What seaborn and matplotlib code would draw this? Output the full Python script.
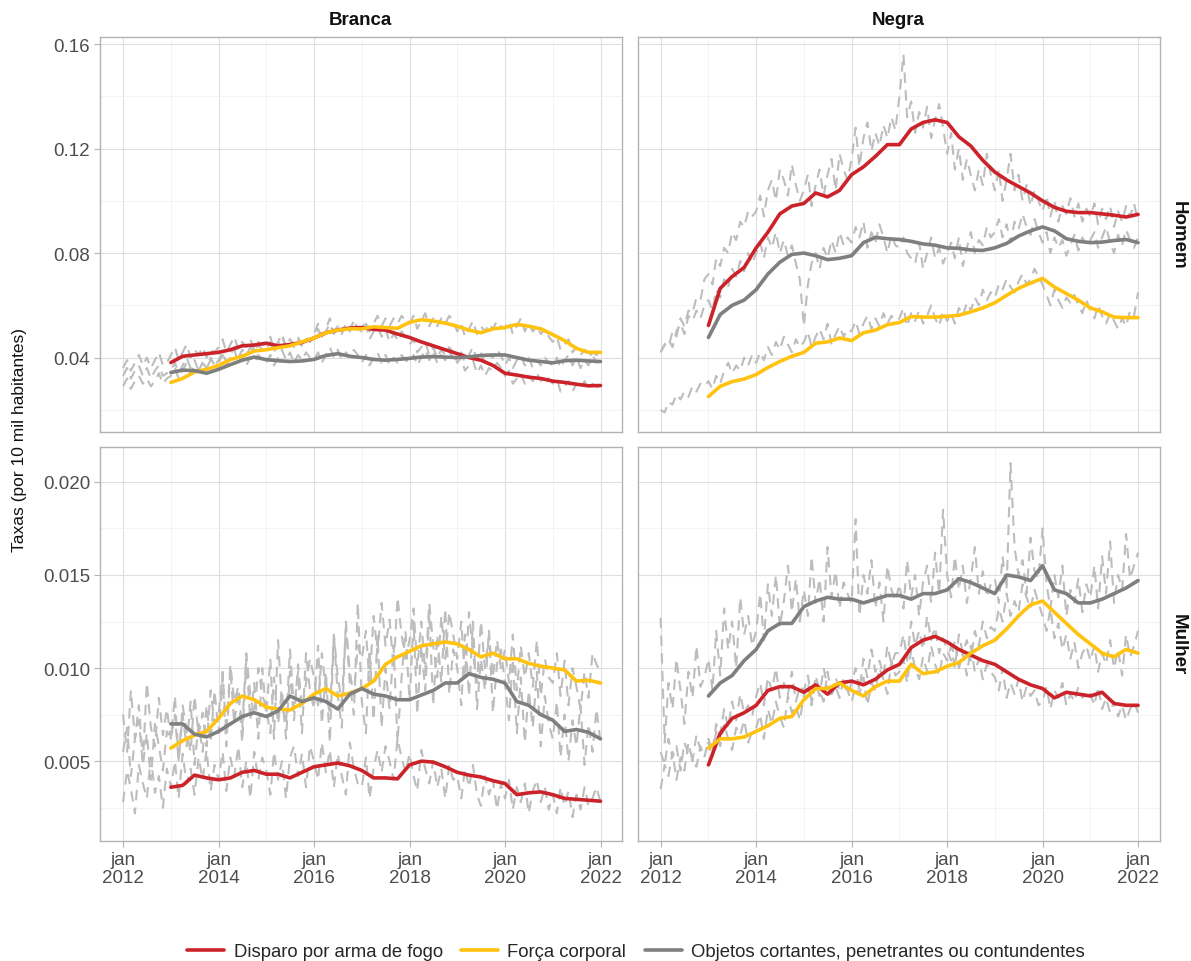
import pandas as pd
import numpy as np

import seaborn as sns
import matplotlib.pyplot as plt

# monthly raw series, Jan 2012 .. Jan 2022 (121 points)
months = pd.date_range('2012-01-01', '2022-01-01', freq='MS')
# 12-month moving average, read quarterly, Jan 2013 .. Jan 2022
quarters = pd.date_range('2013-01-01', '2022-01-01', freq='QS')

series_names = ['Disparo por arma de fogo', 'Força corporal',
                'Objetos cortantes, penetrantes ou contundentes']
series_colors = ['#CC2229', '#FFC20E', '#7F7F7F']
col_labels = ['Branca', 'Negra']
row_labels = ['Homem', 'Mulher']
row_scale = [1e-3, 1e-4]  # Homem values in 1/1000, Mulher values in 1/10000

# ---- Branca / Homem (x 1e-3)
raw_bh_fogo = [36, 39, 35, 38, 41, 37, 40, 36, 39, 42, 37, 38,
               41, 44, 39, 42, 45, 40, 43, 41, 44, 40, 43, 42,
               44, 47, 42, 45, 48, 43, 46, 44, 47, 43, 46, 45,
               45, 48, 43, 46, 49, 44, 47, 45, 48, 44, 47, 46,
               49, 53, 48, 51, 55, 50, 52, 49, 53, 50, 54, 51,
               50, 53, 47, 50, 52, 48, 51, 46, 49, 47, 50, 48,
               45, 47, 42, 44, 46, 41, 44, 40, 43, 41, 44, 42,
               38, 40, 35, 37, 39, 34, 37, 33, 36, 35, 38, 36,
               33, 35, 30, 32, 34, 30, 33, 31, 34, 31, 33, 32,
               30, 32, 27, 29, 31, 27, 30, 28, 31, 28, 30, 29,
               28]
raw_bh_corporal = [29, 32, 28, 31, 33, 30, 32, 29, 31, 34, 30, 32,
                   33, 36, 32, 35, 38, 34, 37, 35, 38, 36, 39, 37,
                   39, 42, 38, 41, 44, 40, 43, 41, 44, 42, 45, 43,
                   43, 46, 42, 45, 48, 44, 47, 44, 47, 45, 48, 46,
                   48, 51, 47, 50, 53, 49, 52, 50, 53, 51, 54, 52,
                   51, 54, 50, 53, 56, 52, 55, 52, 55, 53, 56, 54,
                   53, 56, 51, 54, 57, 52, 55, 52, 55, 53, 56, 54,
                   50, 53, 48, 51, 54, 49, 52, 50, 53, 51, 54, 52,
                   51, 54, 49, 52, 55, 50, 53, 50, 52, 49, 51, 48,
                   46, 48, 43, 45, 47, 42, 44, 41, 43, 40, 42, 41,
                   41]
raw_bh_objetos = [33, 36, 32, 35, 37, 33, 36, 32, 35, 37, 33, 34,
                  35, 38, 34, 37, 40, 36, 39, 35, 38, 36, 40, 37,
                  38, 41, 37, 40, 43, 38, 41, 37, 40, 38, 41, 39,
                  38, 41, 37, 40, 43, 39, 42, 38, 41, 39, 42, 40,
                  39, 42, 38, 41, 44, 40, 43, 39, 42, 40, 43, 41,
                  38, 41, 37, 40, 42, 38, 41, 37, 40, 38, 41, 39,
                  38, 41, 37, 40, 43, 39, 42, 38, 41, 39, 42, 40,
                  39, 42, 38, 41, 44, 39, 42, 38, 41, 40, 43, 41,
                  37, 40, 36, 39, 41, 37, 40, 36, 39, 37, 40, 38,
                  37, 40, 36, 39, 41, 37, 40, 36, 39, 37, 41, 38,
                  39]
mm_bh_fogo = [38.1, 40.5, 41, 41.5, 42, 43, 44.5, 44.8, 45.5, 44.5, 45, 45.8,
              47.5, 49.5, 50.5, 51.3, 51.5, 50.8, 50.5, 49, 47.7, 46, 44.5, 43,
              41.5, 40, 39, 37, 34, 33.3, 32.5, 32, 31, 30.5, 29.8, 29.2, 29.3]
mm_bh_corporal = [30.5, 32, 34.5, 35.5, 37, 39.2, 40.5, 42.5, 43, 43.8, 44.5, 46,
                  47.5, 49.5, 50.5, 51, 51, 51.8, 51.5, 51.2, 53.5, 54.5, 54, 53.2,
                  52, 50.5, 49.5, 51, 51.5, 52.7, 52, 51, 48.8, 46.5, 43.5, 42, 42]
mm_bh_objetos = [34.3, 35.2, 35, 34, 35.5, 37.3, 39, 40.2, 39.2, 38.8, 38.5, 38.7,
                 39.3, 40.8, 41.5, 40.5, 40, 39.3, 39, 39.3, 39.7, 40.2, 40.4, 40.2,
                 40, 40.3, 40.8, 41, 41, 40, 39, 38.5, 38, 38.8, 39, 38.7, 38.5]

# ---- Negra / Homem (x 1e-3)
raw_nh_fogo = [42, 45, 44, 50, 48, 55, 52, 58, 57, 63, 62, 70,
               72, 68, 78, 75, 82, 80, 88, 85, 92, 90, 96, 94,
               96, 102, 94, 104, 108, 100, 112, 108, 102, 114, 106, 100,
               104, 110, 98, 106, 112, 102, 110, 116, 104, 118, 112, 108,
               116, 128, 113, 124, 130, 119, 126, 121, 129, 124, 132, 127,
               140, 156, 132, 138, 126, 134, 128, 136, 124, 131, 137, 128,
               118, 126, 112, 120, 108, 116, 110, 104, 112, 106, 118, 110,
               104, 112, 100, 108, 118, 104, 110, 100, 106, 98, 104, 100,
               96, 102, 94, 100, 92, 98, 95, 101, 94, 99, 92, 97,
               94, 99, 91, 97, 93, 98, 90, 96, 92, 98, 94, 99,
               92]
raw_nh_corporal = [20, 19, 23, 22, 26, 24, 27, 25, 29, 27, 30, 29,
                   31, 28, 33, 30, 35, 38, 34, 37, 35, 40, 37, 41,
                   38, 42, 39, 44, 41, 46, 43, 48, 45, 42, 47, 44,
                   46, 50, 44, 48, 51, 47, 53, 45, 49, 52, 48, 51,
                   50, 54, 49, 53, 56, 51, 55, 52, 57, 53, 56, 54,
                   55, 59, 52, 57, 54, 58, 53, 56, 60, 55, 52, 58,
                   54, 57, 53, 59, 56, 61, 58, 63, 60, 66, 62, 65,
                   63, 68, 66, 70, 67, 65, 69, 72, 68, 70, 74, 71,
                   68, 64, 60, 66, 62, 59, 63, 61, 64, 60, 57, 62,
                   58, 55, 60, 56, 53, 57, 54, 51, 55, 52, 58, 56,
                   65]
raw_nh_objetos = [42, 45, 47, 44, 50, 53, 49, 56, 54, 58, 55, 60,
                  62, 58, 66, 63, 70, 67, 74, 71, 77, 73, 80, 76,
                  80, 84, 78, 86, 82, 88, 80, 85, 79, 83, 76, 70,
                  52, 68, 76, 80, 74, 82, 78, 85, 80, 88, 83, 86,
                  84, 90, 86, 92, 82, 88, 84, 91, 86, 80, 87, 83,
                  82, 86, 80, 78, 76, 84, 74, 80, 86, 78, 82, 76,
                  80, 84, 78, 86, 75, 82, 88, 80, 85, 83, 90, 86,
                  88, 93, 86, 91, 84, 92, 89, 95, 90, 87, 93, 88,
                  84, 88, 80, 86, 82, 85, 79, 83, 87, 81, 86, 83,
                  85, 88, 82, 86, 90, 84, 80, 87, 83, 89, 85, 82,
                  86]
mm_nh_fogo = [52.3, 66.5, 71, 74.5, 82, 88, 95, 98, 99, 103, 101.5, 104,
              110, 113, 117, 121.5, 121.5, 127.5, 130, 131, 130, 124.5, 121, 115.5,
              111, 108, 105.5, 103, 100, 97.5, 96, 95.5, 95.5, 95, 94.5, 93.8, 94.8]
mm_nh_corporal = [25.1, 29, 30.8, 31.8, 33.5, 36.2, 38.5, 40.5, 42, 45.5, 46, 47.5,
                  46.5, 49.5, 50.5, 52.6, 53.4, 55.7, 55.5, 55.5, 55.8, 56.2, 57.5, 59,
                  61, 63.8, 66.5, 68.5, 70.3, 67, 64.5, 62, 59, 57.5, 55.5, 55.3, 55.3]
mm_nh_objetos = [47.7, 56.5, 60, 62, 66, 72, 76.5, 79.5, 80, 79, 77.5, 78,
                 79, 84, 86, 85.5, 85.2, 84.5, 83.5, 83, 82, 81.8, 81.2, 81,
                 82, 83.7, 86.5, 88.5, 90, 88.5, 85.5, 84.5, 84, 84.2, 84.8, 85.2, 84]

# ---- Branca / Mulher (x 1e-4)
raw_bm_fogo = [28, 45, 35, 22, 48, 38, 30, 52, 33, 42, 25, 46,
               36, 50, 30, 54, 38, 46, 32, 52, 40, 56, 34, 48,
               40, 55, 34, 52, 42, 58, 36, 50, 30, 55, 40, 52,
               45, 32, 55, 40, 50, 30, 52, 58, 42, 54, 36, 58,
               50, 40, 60, 44, 56, 36, 54, 42, 32, 60, 46, 38,
               36, 52, 30, 46, 56, 44, 58, 50, 40, 62, 52, 44,
               54, 42, 34, 56, 46, 38, 50, 36, 46, 30, 48, 40,
               42, 30, 46, 36, 48, 32, 26, 42, 32, 40, 24, 38,
               30, 40, 24, 36, 28, 38, 22, 34, 40, 28, 36, 24,
               32, 22, 36, 26, 34, 20, 32, 24, 36, 26, 30, 36,
               28]
raw_bm_corporal = [55, 68, 42, 62, 72, 48, 65, 40, 70, 58, 45, 66,
                   62, 75, 50, 80, 66, 55, 85, 64, 76, 58, 88, 70,
                   75, 98, 65, 102, 82, 90, 68, 108, 85, 75, 100, 86,
                   78, 65, 95, 70, 88, 62, 98, 72, 102, 78, 92, 105,
                   95, 80, 108, 88, 75, 118, 95, 82, 122, 98, 85, 112,
                   105, 120, 92, 128, 108, 135, 112, 126, 100, 138, 118, 105,
                   115, 132, 100, 125, 98, 135, 112, 95, 128, 105, 130, 118,
                   105, 125, 95, 130, 108, 92, 125, 100, 118, 95, 115, 100,
                   110, 92, 118, 88, 112, 95, 108, 90, 115, 85, 105, 95,
                   92, 108, 85, 104, 80, 100, 90, 78, 98, 84, 108, 102,
                   98]
raw_bm_objetos = [75, 55, 88, 62, 80, 50, 92, 68, 58, 84, 64, 78,
                  62, 85, 50, 75, 58, 82, 48, 70, 55, 80, 60, 88,
                  65, 95, 58, 100, 70, 88, 60, 105, 72, 92, 62, 100,
                  75, 105, 62, 115, 80, 70, 110, 78, 98, 65, 108, 88,
                  78, 112, 70, 98, 60, 118, 85, 68, 125, 92, 75, 135,
                  82, 65, 110, 72, 118, 68, 100, 78, 112, 60, 95, 120,
                  82, 125, 75, 112, 88, 130, 80, 118, 92, 132, 86, 110,
                  100, 80, 118, 85, 125, 78, 105, 88, 120, 76, 102, 110,
                  92, 72, 105, 65, 95, 60, 88, 68, 98, 58, 85, 70,
                  62, 82, 52, 75, 50, 72, 58, 80, 48, 70, 55, 78,
                  60]
mm_bm_fogo = [36, 37, 42.5, 41, 40, 41, 44, 45, 43, 43, 41, 44,
              47, 48, 49, 47.5, 45, 41, 41, 40.5, 48, 50, 49.5, 47,
              44, 42.5, 41.5, 39.5, 38, 32, 33, 33.5, 32, 30, 29.5, 29, 28.5]
mm_bm_corporal = [57, 61, 64, 66, 73, 81, 85, 83, 79, 78, 77.5, 81,
                  86, 89, 85, 86.5, 89, 93, 102, 106, 109, 112, 113, 114,
                  113, 110, 106, 108, 105, 105, 102.5, 101, 100, 99, 93, 93.5, 92]
mm_bm_objetos = [70, 70, 64.5, 63, 66, 70, 74, 76, 74, 77, 85, 82,
                 84, 82, 78, 86, 89, 86, 85, 83, 83, 85.5, 88, 92,
                 92, 97, 95, 94, 92, 82, 80, 75, 72, 66, 67, 65.5, 62]

# ---- Negra / Mulher (x 1e-4)
raw_nm_fogo = [35, 48, 42, 55, 40, 52, 45, 60, 50, 47, 58, 52,
               62, 55, 70, 64, 78, 68, 82, 72, 86, 76, 80, 74,
               85, 92, 80, 95, 88, 100, 84, 92, 86, 98, 82, 90,
               88, 96, 82, 92, 85, 100, 90, 84, 95, 88, 92, 86,
               92, 100, 88, 105, 95, 110, 98, 104, 96, 112, 102, 108,
               108, 118, 104, 125, 112, 120, 110, 128, 115, 122, 108, 116,
               110, 104, 115, 100, 108, 96, 112, 98, 105, 94, 102, 98,
               95, 88, 100, 84, 92, 86, 94, 82, 90, 85, 88, 80,
               82, 90, 78, 88, 84, 92, 80, 86, 82, 90, 84, 88,
               86, 80, 90, 78, 84, 76, 82, 74, 80, 72, 78, 82,
               76]
raw_nm_corporal = [55, 48, 62, 52, 58, 45, 60, 54, 50, 64, 56, 58,
                   60, 52, 66, 58, 70, 62, 56, 68, 64, 72, 60, 66,
                   68, 75, 62, 78, 70, 82, 74, 68, 85, 76, 80, 72,
                   85, 92, 80, 96, 88, 82, 98, 86, 90, 84, 94, 88,
                   82, 90, 86, 95, 80, 92, 88, 100, 94, 86, 104, 96,
                   98, 105, 92, 110, 100, 94, 106, 98, 112, 102, 96, 108,
                   104, 112, 100, 118, 108, 115, 104, 120, 112, 125, 116, 122,
                   120, 132, 125, 140, 128, 136, 130, 145, 138, 132, 142, 135,
                   128, 120, 132, 116, 124, 110, 118, 105, 114, 100, 108, 112,
                   104, 112, 98, 108, 102, 115, 100, 110, 96, 118, 106, 112,
                   120]
raw_nm_objetos = [127, 60, 92, 78, 105, 88, 70, 98, 84, 112, 90, 95,
                  105, 88, 120, 96, 132, 110, 125, 100, 138, 118, 128, 112,
                  120, 140, 115, 145, 128, 150, 122, 136, 155, 130, 148, 125,
                  142, 128, 160, 135, 148, 125, 165, 138, 152, 132, 146, 140,
                  135, 180, 128, 150, 140, 158, 132, 146, 125, 155, 142, 136,
                  145, 132, 158, 138, 150, 128, 146, 155, 135, 162, 140, 185,
                  150, 138, 160, 142, 155, 135, 148, 165, 140, 152, 138, 145,
                  148, 135, 160, 142, 210, 165, 150, 158, 140, 170, 152, 148,
                  175, 145, 132, 150, 138, 155, 128, 142, 135, 148, 130, 145,
                  138, 155, 132, 160, 140, 168, 135, 150, 142, 172, 148, 155,
                  162]
mm_nm_fogo = [48, 65, 73, 76, 80, 88, 90, 90, 87, 91, 86, 92,
              93, 91, 94, 99, 102, 111, 115, 117, 114, 110, 107, 104,
              102, 98, 94, 91, 89, 84, 87, 86, 85, 87, 81, 80, 80]
mm_nm_corporal = [57, 62, 62, 63, 66, 69, 73, 74, 83, 89, 89, 92,
                  88, 85, 90, 93, 93, 102, 97, 98, 101, 103, 108, 112,
                  115, 121, 128, 134, 136, 130, 124, 118, 113, 108, 106, 110, 108]
mm_nm_objetos = [85, 92, 96, 104, 110, 120, 124, 124, 133, 136, 138, 137,
                 137, 135, 137, 139, 139, 137, 140, 140, 142, 148, 146, 143,
                 140, 150, 149, 147, 155, 142, 140, 135, 135, 137, 140, 143, 147]

panels = {
    (0, 0): ([raw_bh_fogo, raw_bh_corporal, raw_bh_objetos], [mm_bh_fogo, mm_bh_corporal, mm_bh_objetos]),
    (0, 1): ([raw_nh_fogo, raw_nh_corporal, raw_nh_objetos], [mm_nh_fogo, mm_nh_corporal, mm_nh_objetos]),
    (1, 0): ([raw_bm_fogo, raw_bm_corporal, raw_bm_objetos], [mm_bm_fogo, mm_bm_corporal, mm_bm_objetos]),
    (1, 1): ([raw_nm_fogo, raw_nm_corporal, raw_nm_objetos], [mm_nm_fogo, mm_nm_corporal, mm_nm_objetos]),
}

sns.set_theme(style='white')
plt.rcParams['font.family'] = ['Liberation Sans', 'DejaVu Sans']

fig, axes = plt.subplots(2, 2, figsize=(11.91, 9.62), dpi=100, sharex=True, sharey='row')
fig.subplots_adjust(left=0.084, right=0.974, top=0.9605, bottom=0.1247, wspace=0.029, hspace=0.038)

grid_c = '#DEDEDE'
border_c = '#B3B3B3'
text_c = '#4D4D4D'

major_x = pd.to_datetime([f'{y}-01-01' for y in range(2012, 2023, 2)])
minor_x = pd.to_datetime([f'{y}-01-01' for y in range(2013, 2022, 2)])
ylims = [(0.0117, 0.1627), (0.00071, 0.0219)]
major_y = [[0.04, 0.08, 0.12, 0.16], [0.005, 0.010, 0.015, 0.020]]
minor_y = [[0.02, 0.06, 0.10, 0.14], [0.0025, 0.0075, 0.0125, 0.0175]]
yfmt = ['{:.2f}', '{:.3f}']

for (r, c), (raws, mms) in panels.items():
    ax = axes[r, c]
    sc = row_scale[r]
    for raw in raws:
        sns.lineplot(x=months, y=np.array(raw) * sc, ax=ax, color='#BDBDBD',
                     linewidth=1.5, dashes=(5, 3.5), zorder=2)
    for mm, color in zip(mms, series_colors):
        sns.lineplot(x=quarters, y=np.array(mm) * sc, ax=ax, color=color,
                     linewidth=2.6, zorder=3)
    ax.set_ylim(*ylims[r])
    ax.set_xlim(pd.Timestamp('2012-01-01') - pd.Timedelta(days=176),
                pd.Timestamp('2022-01-01') + pd.Timedelta(days=168))
    ax.set_yticks(major_y[r])
    ax.set_yticks(minor_y[r], minor=True)
    ax.set_xticks(major_x)
    ax.set_xticks(minor_x, minor=True)
    ax.set_xticklabels([f'jan\n{d.year}' for d in major_x])
    ax.set_yticklabels([yfmt[r].format(v) for v in major_y[r]])
    ax.grid(which='major', color=grid_c, linewidth=0.8, zorder=0)
    ax.grid(which='minor', color='#EEEEEE', linewidth=0.5, zorder=0)
    ax.set_axisbelow(True)
    for s in ax.spines.values():
        s.set_color(border_c)
        s.set_linewidth(1.0)
    ax.tick_params(which='major', color=border_c, length=4, width=0.8,
                   labelcolor=text_c, labelsize=13.5, pad=3,
                   bottom=(r == 1), left=(c == 0),
                   labelbottom=(r == 1), labelleft=(c == 0))
    ax.tick_params(which='minor', length=0)
    ax.set_xlabel('')
    ax.set_ylabel('')

for lab in axes[1, 0].get_xticklabels() + axes[1, 1].get_xticklabels():
    lab.set_linespacing(1.1)

# strip labels
strip_kw = dict(ha='center', va='center', fontsize=13.5, fontweight='bold', color='#111111')
fig.text(0.303, 0.979, col_labels[0], **strip_kw)
fig.text(0.7544, 0.979, col_labels[1], **strip_kw)
fig.text(0.989, 0.7557, row_labels[0], rotation=270, **strip_kw)
fig.text(0.989, 0.33, row_labels[1], rotation=270, **strip_kw)

fig.text(0.016, 0.5426, 'Taxas (por 10 mil habitantes)', ha='center', va='center',
         rotation=90, fontsize=12.5, color='#111111')

handles = [plt.Line2D([], [], color=c, linewidth=2.6) for c in series_colors]
fig.legend(handles, series_names, loc='center', bbox_to_anchor=(0.534, 0.0095), ncol=3,
           frameon=False, fontsize=13.3, handlelength=2.0, handletextpad=0.5,
           columnspacing=1.0)

fig.savefig('out.png', dpi=100)
